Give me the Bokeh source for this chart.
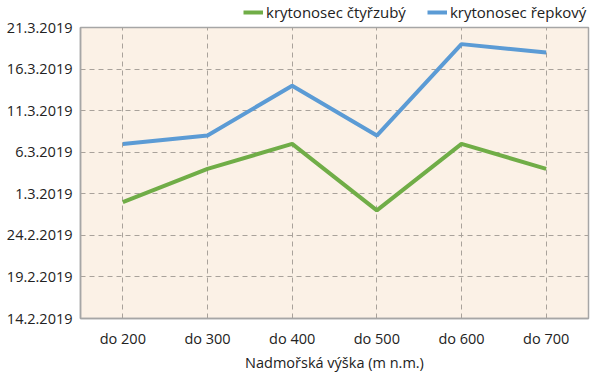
from datetime import datetime
from bokeh.plotting import figure
from bokeh.layouts import column
from bokeh.models import Range1d, FixedTicker, Legend, LegendItem, ColumnDataSource
from bokeh.embed import file_html
from bokeh.resources import INLINE

categories = ["do 200", "do 300", "do 400", "do 500", "do 600", "do 700"]
ctyrzuby = ["28.2.2019", "4.3.2019", "7.3.2019", "27.2.2019", "7.3.2019", "4.3.2019"]
repkovy = ["7.3.2019", "8.3.2019", "14.3.2019", "8.3.2019", "19.3.2019", "18.3.2019"]
tick_labels = ["14.2.2019", "19.2.2019", "24.2.2019", "1.3.2019", "6.3.2019",
               "11.3.2019", "16.3.2019", "21.3.2019"]
series_names = ["krytonosec čtyřzubý", "krytonosec řepkový"]
colors = ["#70AD47", "#5B9BD5"]

def parse(s):
    return datetime.strptime(s, "%d.%m.%Y")

def ms(d):
    return (d - datetime(1970, 1, 1)).total_seconds() * 1000.0

FONT = "Open Sans"
FS = "14.5px"
TXT = "#222222"

# ---- main chart ----
p = figure(width=600, height=352, x_range=categories,
           y_range=Range1d(parse(tick_labels[0]), parse(tick_labels[-1])),
           output_backend="svg", toolbar_location=None,
           min_border_left=80, min_border_right=12, min_border_top=5,
           min_border_bottom=48)

p.background_fill_color = "#FBF1E6"
p.border_fill_color = "white"
p.outline_line_color = "#A6A6A6"
p.outline_line_width = 1.5

for vals, c in zip([ctyrzuby, repkovy], colors):
    src = ColumnDataSource(dict(x=categories, y=[parse(v) for v in vals]))
    p.line("x", "y", source=src, line_color=c, line_width=4)

tick_ms = [ms(parse(t)) for t in tick_labels]
p.yaxis.ticker = FixedTicker(ticks=tick_ms)
p.yaxis.major_label_overrides = {int(m): lab for m, lab in zip(tick_ms, tick_labels)}

for ax in (p.xaxis, p.yaxis):
    ax.axis_line_color = "#A6A6A6"
    ax.axis_line_width = 1.5
    ax.major_tick_line_color = None
    ax.minor_tick_line_color = None
    ax.major_tick_out = 0
    ax.major_tick_in = 0
    ax.minor_tick_out = 0
    ax.major_label_text_font = FONT
    ax.major_label_text_font_size = FS
    ax.major_label_text_color = TXT

p.yaxis.major_label_standoff = 8
p.xaxis.major_label_standoff = 10
p.xaxis.axis_label = "Nadmořská výška (m n.m.)"
p.xaxis.axis_label_text_font = FONT
p.xaxis.axis_label_text_font_size = FS
p.xaxis.axis_label_text_font_style = "normal"
p.xaxis.axis_label_text_color = TXT
p.xaxis.axis_label_standoff = 2

for g in (p.xgrid, p.ygrid):
    g.grid_line_color = "#A9A29B"
    g.grid_line_dash = "5 4"
    g.grid_line_width = 1

# ---- legend strip ----
lg = figure(width=600, height=22, x_range=Range1d(0, 1), y_range=Range1d(0, 1),
            output_backend="svg", toolbar_location=None,
            x_axis_type=None, y_axis_type=None, min_border=0)
lg.outline_line_color = None
lg.grid.visible = False
items = []
for n, c in zip(series_names, colors):
    r = lg.line([5, 6], [5, 6], line_color=c, line_width=4)
    items.append(LegendItem(label=n, renderers=[r]))
legend = Legend(items=items, orientation="horizontal", location=(163, 0),
                label_text_font=FONT, label_text_font_size="15px", label_text_color=TXT,
                glyph_width=20, glyph_height=6, label_standoff=3, spacing=21,
                padding=0, margin=0, border_line_color=None, background_fill_alpha=0)
lg.add_layout(legend)

layout = column(lg, p, spacing=0)
open("out.html", "w").write(file_html(layout, INLINE))
